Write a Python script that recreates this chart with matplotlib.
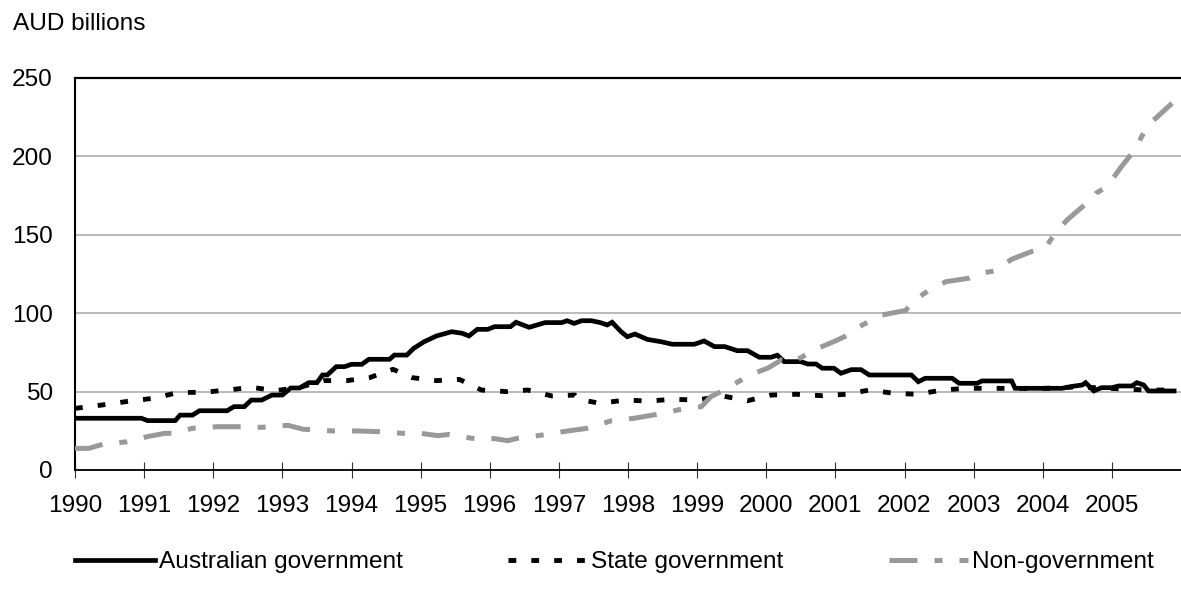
import matplotlib
matplotlib.use("Agg")
import matplotlib.pyplot as plt
from matplotlib.ticker import FixedLocator

plt.rcParams['font.family'] = ['Liberation Sans', 'DejaVu Sans']

# ---------------- data (decimal years, AUD billions) ----------------
aus_years = [1990.0, 1990.96, 1991.05, 1991.45, 1991.52, 1991.7, 1991.8, 1992.2, 1992.3, 1992.45,
             1992.55, 1992.7, 1992.85, 1993.0, 1993.12, 1993.25, 1993.38, 1993.5, 1993.58, 1993.65,
             1993.78, 1993.9, 1994.0, 1994.15, 1994.25, 1994.55, 1994.62, 1994.8, 1994.9, 1995.05,
             1995.23, 1995.45, 1995.6, 1995.7, 1995.82, 1995.97, 1996.07, 1996.3, 1996.38, 1996.57,
             1996.8, 1997.04, 1997.12, 1997.22, 1997.33, 1997.47, 1997.6, 1997.7, 1997.77, 1997.9,
             1997.99, 1998.1, 1998.28, 1998.48, 1998.64, 1998.96, 1999.1, 1999.25, 1999.4, 1999.58,
             1999.73, 1999.9, 2000.07, 2000.16, 2000.26, 2000.5, 2000.6, 2000.72, 2000.81, 2000.98,
             2001.08, 2001.23, 2001.37, 2001.49, 2002.1, 2002.2, 2002.3, 2002.69, 2002.79, 2003.05,
             2003.12, 2003.55, 2003.6, 2004.28, 2004.45, 2004.57, 2004.62, 2004.74, 2004.85, 2005.0,
             2005.1, 2005.29, 2005.36, 2005.46, 2005.53, 2005.9]
aus_values = [33.0, 33.0, 31.5, 31.5, 35.0, 35.0, 37.8, 37.8, 40.4, 40.4,
              44.6, 44.6, 47.8, 47.8, 52.3, 52.3, 55.7, 55.7, 60.6, 60.6,
              65.9, 65.9, 67.4, 67.4, 70.6, 70.6, 73.3, 73.3, 77.6, 81.8,
              85.5, 88.2, 87.2, 85.5, 89.7, 89.7, 91.4, 91.4, 94.2, 91.0,
              94.0, 94.0, 95.2, 93.5, 95.2, 95.2, 94.0, 92.5, 94.2, 88.2,
              85.0, 86.7, 83.3, 81.8, 80.2, 80.2, 82.3, 78.7, 78.7, 76.1,
              76.1, 71.9, 71.9, 73.2, 69.1, 69.1, 67.6, 67.6, 64.9, 64.9,
              61.7, 64.0, 64.0, 60.6, 60.6, 56.3, 58.5, 58.5, 55.3, 55.3,
              56.8, 56.8, 52.1, 52.1, 53.5, 54.2, 55.7, 50.4, 52.5, 52.5,
              53.6, 53.6, 55.7, 54.2, 50.4, 50.4]

state_years = [1990.0, 1990.4, 1990.8, 1991.13, 1991.5, 1991.85, 1992.2, 1992.56, 1992.9, 1993.25,
               1993.6, 1993.93, 1994.26, 1994.6, 1994.88, 1995.23, 1995.56, 1995.88, 1996.24, 1996.55,
               1996.9, 1997.23, 1997.28, 1997.6, 1997.95, 1998.3, 1998.65, 1999.0, 1999.37, 1999.73,
               2000.07, 2000.43, 2000.8, 2001.16, 2001.49, 2001.85, 2002.18, 2002.55, 2002.9, 2003.25,
               2003.6, 2004.0, 2004.5, 2005.0, 2005.5, 2005.9]
state_values = [39.3, 41.5, 44.0, 45.7, 49.5, 49.5, 51.0, 52.7, 50.6, 52.7,
                57.0, 57.0, 58.9, 64.2, 58.9, 57.0, 57.8, 51.0, 50.0, 51.0,
                47.2, 47.8, 45.1, 42.5, 44.6, 44.0, 45.1, 44.6, 47.2, 44.2,
                47.8, 48.3, 47.4, 48.3, 51.0, 48.9, 48.3, 51.0, 52.1, 52.1,
                52.0, 52.0, 53.0, 52.0, 51.0, 51.0]

nongov_years = [1990.0, 1990.2, 1990.4, 1990.75, 1991.05, 1991.3, 1991.42, 1991.7, 1992.05, 1992.4,
                1992.7, 1993.08, 1993.3, 1993.73, 1994.1, 1994.43, 1994.74, 1995.0, 1995.25, 1995.42,
                1995.74, 1996.07, 1996.26, 1996.4, 1996.76, 1997.05, 1997.41, 1997.76, 1998.09, 1998.42,
                1998.77, 1999.06, 1999.2, 1999.39, 1999.68, 1999.72, 2000.02, 2000.22, 2000.4, 2000.69,
                2001.01, 2001.13, 2001.39, 2001.68, 2001.75, 2002.02, 2002.11, 2002.36, 2002.6, 2002.93,
                2003.08, 2003.3, 2003.55, 2003.83, 2004.05, 2004.16, 2004.35, 2004.62, 2004.67, 2004.77,
                2004.93, 2005.13, 2005.35, 2005.43, 2005.53, 2005.58, 2005.87]
nongov_values = [13.8, 13.8, 16.4, 18.0, 21.3, 23.4, 23.4, 26.6, 27.6, 27.6,
                 27.2, 28.5, 26.0, 24.9, 24.9, 24.4, 23.4, 23.4, 21.9, 22.7,
                 20.2, 20.0, 18.7, 20.2, 22.3, 24.4, 26.6, 31.4, 33.0, 35.5,
                 38.7, 40.4, 46.8, 51.0, 58.5, 60.0, 64.9, 70.2, 69.1, 76.5,
                 82.5, 85.0, 92.5, 98.9, 99.5, 101.8, 107.3, 114.8, 120.1, 122.3,
                 125.4, 126.9, 134.4, 139.2, 142.4, 149.9, 159.4, 169.6, 170.5, 176.5,
                 180.7, 193.0, 205.2, 212.6, 220.0, 222.1, 233.9]

year_ticks = list(range(1990, 2006))
year_labels = [str(y) for y in year_ticks]
y_ticks = [0, 50, 100, 150, 200, 250]

series_names = ["Australian government", "State government", "Non-government"]

# ---------------- figure ----------------
W, H = 1181, 595
fig = plt.figure(figsize=(W / 100, H / 100), dpi=100)
ax = fig.add_axes([75 / W, 1 - 470 / H, (W - 75) / W, (470 - 78) / H])

FS = 17.6

ax.plot(aus_years, aus_values, color='black', lw=3.4, solid_joinstyle='miter',
        label=series_names[0], zorder=3)
ax.plot(state_years, state_values, color='black', lw=3.5, dashes=(1.6, 3.1),
        label=series_names[1], zorder=4)
ax.plot(nongov_years, nongov_values, color='#999999', lw=3.6, dashes=(5.6, 3.4, 1.6, 3.4),
        label=series_names[2], zorder=5)

ax.set_xlim(1990, 2006)
ax.set_ylim(0, 250)

ax.xaxis.set_major_locator(FixedLocator(year_ticks))
ax.set_xticklabels(year_labels)
ax.set_yticks(y_ticks)

ax.tick_params(axis='x', direction='inout', length=11.5, width=0.8, color='#333333',
               labelsize=FS, pad=12.5)
ax.tick_params(axis='y', length=0, labelsize=FS, pad=16)

ax.yaxis.grid(True, color='#a8a8a8', lw=1.1, zorder=1)
ax.set_axisbelow(True)

ax.spines['right'].set_visible(False)
ax.spines['top'].set_linewidth(1.6)
ax.spines['left'].set_linewidth(1.5)
ax.spines['bottom'].set_linewidth(1.3)
for s in ax.spines.values():
    s.set_color('black')

fig.text(12.7 / W, 1 - 30 / H, "AUD billions", fontsize=FS, ha='left', va='baseline')

leg = fig.legend(loc='center left', bbox_to_anchor=(75 / W, 1 - 562 / H), ncol=3,
                 frameon=False, fontsize=FS, handlelength=3.27, handletextpad=0.15,
                 columnspacing=4.3, borderpad=0, borderaxespad=0)

fig.savefig("out.png", dpi=100)
